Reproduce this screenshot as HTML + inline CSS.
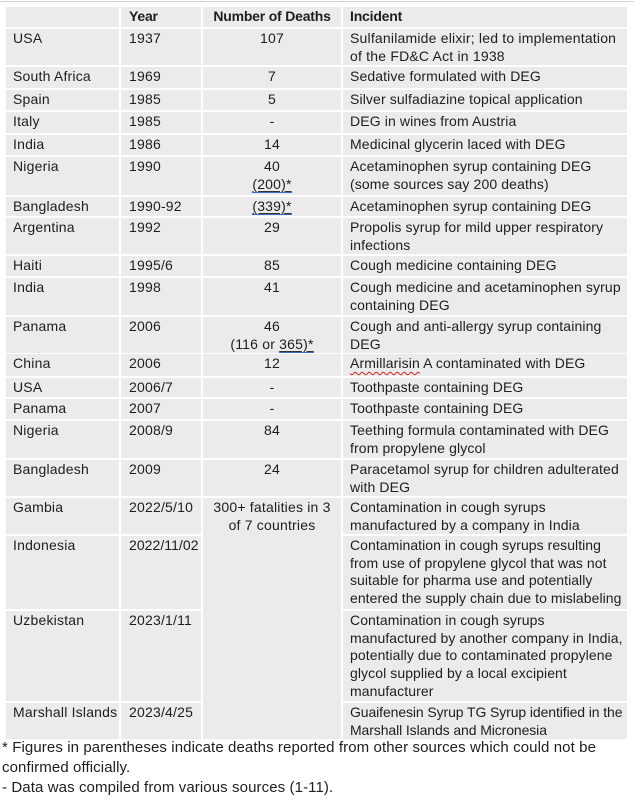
<!DOCTYPE html>
<html>
<head>
<meta charset="utf-8">
<style>
  html,body{margin:0;padding:0;background:#fff;}
  body{width:634px;height:801px;position:relative;overflow:hidden;
       font-family:"Liberation Sans",Arial,sans-serif;color:#1e1e1e;}
  .topline{position:absolute;left:0;top:1px;width:634px;height:1px;background:#d2d2d2;}
  .c{position:absolute;background:#ebebed;box-sizing:border-box;
     font-size:14px;letter-spacing:0.2px;line-height:17.7px;white-space:nowrap;
     padding-top:1px;}
  .l{padding-left:7px;}
  .i{padding-left:7px;letter-spacing:0.12px;}
  .y{padding-left:8px;}
  .n{text-align:center;}
  .h{font-weight:bold;letter-spacing:-0.2px;}
  .u{text-decoration:underline;text-decoration-color:#333;text-underline-offset:2px;
     border-bottom:1px solid #3b6bc0;padding-bottom:0;}
  .w{text-decoration:underline wavy #d02020;text-decoration-thickness:1px;text-underline-offset:3px;}
  .foot{position:absolute;left:2px;top:738px;font-size:15px;line-height:20px;
        letter-spacing:0.1px;white-space:nowrap;color:#1e1e1e;}
</style>
</head>
<body>
<div class="topline"></div>

<!-- Header -->
<div class="c l" style="left:6px;top:7px;width:113px;height:20px;"></div>
<div class="c y h" style="left:121px;top:7px;width:80px;height:20px;">Year</div>
<div class="c n h" style="left:203px;top:7px;width:138px;height:20px;">Number of Deaths</div>
<div class="c l h" style="left:343px;top:7px;width:284px;height:20px;">Incident</div>

<!-- Row 1 USA 28-66 -->
<div class="c l" style="left:6px;top:29px;width:113px;height:36px;">USA</div>
<div class="c y" style="left:121px;top:29px;width:80px;height:36px;">1937</div>
<div class="c n" style="left:203px;top:29px;width:138px;height:36px;">107</div>
<div class="c i" style="left:343px;top:29px;width:284px;height:36px;letter-spacing:0.2px;">Sulfanilamide elixir; led to implementation<br>of the FD&amp;C Act in 1938</div>

<!-- Row 2 66-89 -->
<div class="c l" style="left:6px;top:67px;width:113px;height:21px;">South Africa</div>
<div class="c y" style="left:121px;top:67px;width:80px;height:21px;">1969</div>
<div class="c n" style="left:203px;top:67px;width:138px;height:21px;">7</div>
<div class="c i" style="left:343px;top:67px;width:284px;height:21px;">Sedative formulated with DEG</div>

<!-- Row 3 89-111 -->
<div class="c l" style="left:6px;top:90px;width:113px;height:20px;">Spain</div>
<div class="c y" style="left:121px;top:90px;width:80px;height:20px;">1985</div>
<div class="c n" style="left:203px;top:90px;width:138px;height:20px;">5</div>
<div class="c i" style="left:343px;top:90px;width:284px;height:20px;">Silver sulfadiazine topical application</div>

<!-- Row 4 111-134 -->
<div class="c l" style="left:6px;top:112px;width:113px;height:21px;">Italy</div>
<div class="c y" style="left:121px;top:112px;width:80px;height:21px;">1985</div>
<div class="c n" style="left:203px;top:112px;width:138px;height:21px;">-</div>
<div class="c i" style="left:343px;top:112px;width:284px;height:21px;">DEG in wines from Austria</div>

<!-- Row 5 134-156 -->
<div class="c l" style="left:6px;top:135px;width:113px;height:20px;">India</div>
<div class="c y" style="left:121px;top:135px;width:80px;height:20px;">1986</div>
<div class="c n" style="left:203px;top:135px;width:138px;height:20px;">14</div>
<div class="c i" style="left:343px;top:135px;width:284px;height:20px;">Medicinal glycerin laced with DEG</div>

<!-- Row 6 156-196 -->
<div class="c l" style="left:6px;top:157px;width:113px;height:38px;">Nigeria</div>
<div class="c y" style="left:121px;top:157px;width:80px;height:38px;">1990</div>
<div class="c n" style="left:203px;top:157px;width:138px;height:38px;">40<br><span class="u">(200)*</span></div>
<div class="c i" style="left:343px;top:157px;width:284px;height:38px;">Acetaminophen syrup containing DEG<br>(some sources say 200 deaths)</div>

<!-- Row 7 196-217 -->
<div class="c l" style="left:6px;top:197px;width:113px;height:19px;">Bangladesh</div>
<div class="c y" style="left:121px;top:197px;width:80px;height:19px;">1990-92</div>
<div class="c n" style="left:203px;top:197px;width:138px;height:19px;"><span class="u">(339)*</span></div>
<div class="c i" style="left:343px;top:197px;width:284px;height:19px;">Acetaminophen syrup containing DEG</div>

<!-- Row 8 217-255 -->
<div class="c l" style="left:6px;top:218px;width:113px;height:36px;">Argentina</div>
<div class="c y" style="left:121px;top:218px;width:80px;height:36px;">1992</div>
<div class="c n" style="left:203px;top:218px;width:138px;height:36px;">29</div>
<div class="c i" style="left:343px;top:218px;width:284px;height:36px;">Propolis syrup for mild upper respiratory<br>infections</div>

<!-- Row 9 255-277 -->
<div class="c l" style="left:6px;top:256px;width:113px;height:20px;">Haiti</div>
<div class="c y" style="left:121px;top:256px;width:80px;height:20px;">1995/6</div>
<div class="c n" style="left:203px;top:256px;width:138px;height:20px;">85</div>
<div class="c i" style="left:343px;top:256px;width:284px;height:20px;">Cough medicine containing DEG</div>

<!-- Row 10 277-316 -->
<div class="c l" style="left:6px;top:278px;width:113px;height:37px;">India</div>
<div class="c y" style="left:121px;top:278px;width:80px;height:37px;">1998</div>
<div class="c n" style="left:203px;top:278px;width:138px;height:37px;">41</div>
<div class="c i" style="left:343px;top:278px;width:284px;height:37px;">Cough medicine and acetaminophen syrup<br>containing DEG</div>

<!-- Row 11 316-353 -->
<div class="c l" style="left:6px;top:317px;width:113px;height:36px;">Panama</div>
<div class="c y" style="left:121px;top:317px;width:80px;height:36px;">2006</div>
<div class="c n" style="left:203px;top:317px;width:138px;height:36px;">46<br>(116 or <span class="u">365)*</span></div>
<div class="c i" style="left:343px;top:317px;width:284px;height:36px;">Cough and anti-allergy syrup containing<br>DEG</div>

<!-- Row 12 353-377 -->
<div class="c l" style="left:6px;top:354px;width:113px;height:22px;">China</div>
<div class="c y" style="left:121px;top:354px;width:80px;height:22px;">2006</div>
<div class="c n" style="left:203px;top:354px;width:138px;height:22px;">12</div>
<div class="c i" style="left:343px;top:354px;width:284px;height:22px;"><span class="w">Armillarisin</span> A contaminated with DEG</div>

<!-- Row 13 377-398 -->
<div class="c l" style="left:6px;top:378px;width:113px;height:19px;">USA</div>
<div class="c y" style="left:121px;top:378px;width:80px;height:19px;">2006/7</div>
<div class="c n" style="left:203px;top:378px;width:138px;height:19px;">-</div>
<div class="c i" style="left:343px;top:378px;width:284px;height:19px;">Toothpaste containing DEG</div>

<!-- Row 14 398-420 -->
<div class="c l" style="left:6px;top:399px;width:113px;height:20px;">Panama</div>
<div class="c y" style="left:121px;top:399px;width:80px;height:20px;">2007</div>
<div class="c n" style="left:203px;top:399px;width:138px;height:20px;">-</div>
<div class="c i" style="left:343px;top:399px;width:284px;height:20px;">Toothpaste containing DEG</div>

<!-- Row 15 420-459 -->
<div class="c l" style="left:6px;top:421px;width:113px;height:37px;">Nigeria</div>
<div class="c y" style="left:121px;top:421px;width:80px;height:37px;">2008/9</div>
<div class="c n" style="left:203px;top:421px;width:138px;height:37px;">84</div>
<div class="c i" style="left:343px;top:421px;width:284px;height:37px;">Teething formula contaminated with DEG<br>from propylene glycol</div>

<!-- Row 16 459-497 -->
<div class="c l" style="left:6px;top:460px;width:113px;height:36px;">Bangladesh</div>
<div class="c y" style="left:121px;top:460px;width:80px;height:36px;">2009</div>
<div class="c n" style="left:203px;top:460px;width:138px;height:36px;">24</div>
<div class="c i" style="left:343px;top:460px;width:284px;height:36px;">Paracetamol syrup for children adulterated<br>with DEG</div>

<!-- Merged number cell 497-739 -->
<div class="c n" style="left:203px;top:498px;width:138px;height:241px;">300+ fatalities in 3<br>of 7 countries</div>

<!-- Row 17 497-535 -->
<div class="c l" style="left:6px;top:498px;width:113px;height:36px;">Gambia</div>
<div class="c y" style="left:121px;top:498px;width:80px;height:36px;">2022/5/10</div>
<div class="c i" style="left:343px;top:498px;width:284px;height:36px;">Contamination in cough syrups<br>manufactured by a company in India</div>

<!-- Row 18 535-610 -->
<div class="c l" style="left:6px;top:536px;width:113px;height:73px;">Indonesia</div>
<div class="c y" style="left:121px;top:536px;width:80px;height:73px;letter-spacing:0.05px;">2022/11/02</div>
<div class="c i" style="left:343px;top:536px;width:284px;height:73px;letter-spacing:0.05px;">Contamination in cough syrups resulting<br>from use of propylene glycol that was not<br>suitable for pharma use and potentially<br>entered the supply chain due to mislabeling</div>

<!-- Row 19 610-702 -->
<div class="c l" style="left:6px;top:611px;width:113px;height:90px;">Uzbekistan</div>
<div class="c y" style="left:121px;top:611px;width:80px;height:90px;">2023/1/11</div>
<div class="c i" style="left:343px;top:611px;width:284px;height:90px;letter-spacing:0.08px;">Contamination in cough syrups<br>manufactured by another company in India,<br>potentially due to contaminated propylene<br>glycol supplied by a local excipient<br>manufacturer</div>

<!-- Row 20 702-739 -->
<div class="c l" style="left:6px;top:703px;width:113px;height:36px;">Marshall Islands</div>
<div class="c y" style="left:121px;top:703px;width:80px;height:36px;">2023/4/25</div>
<div class="c i" style="left:343px;top:703px;width:284px;height:36px;letter-spacing:-0.1px;">Guaifenesin Syrup TG Syrup identified in the<br>Marshall Islands and Micronesia</div>

<div class="foot">* Figures in parentheses indicate deaths reported from other sources which could not be<br>confirmed officially.<br>- Data was compiled from various sources (1-11).</div>
</body>
</html>
